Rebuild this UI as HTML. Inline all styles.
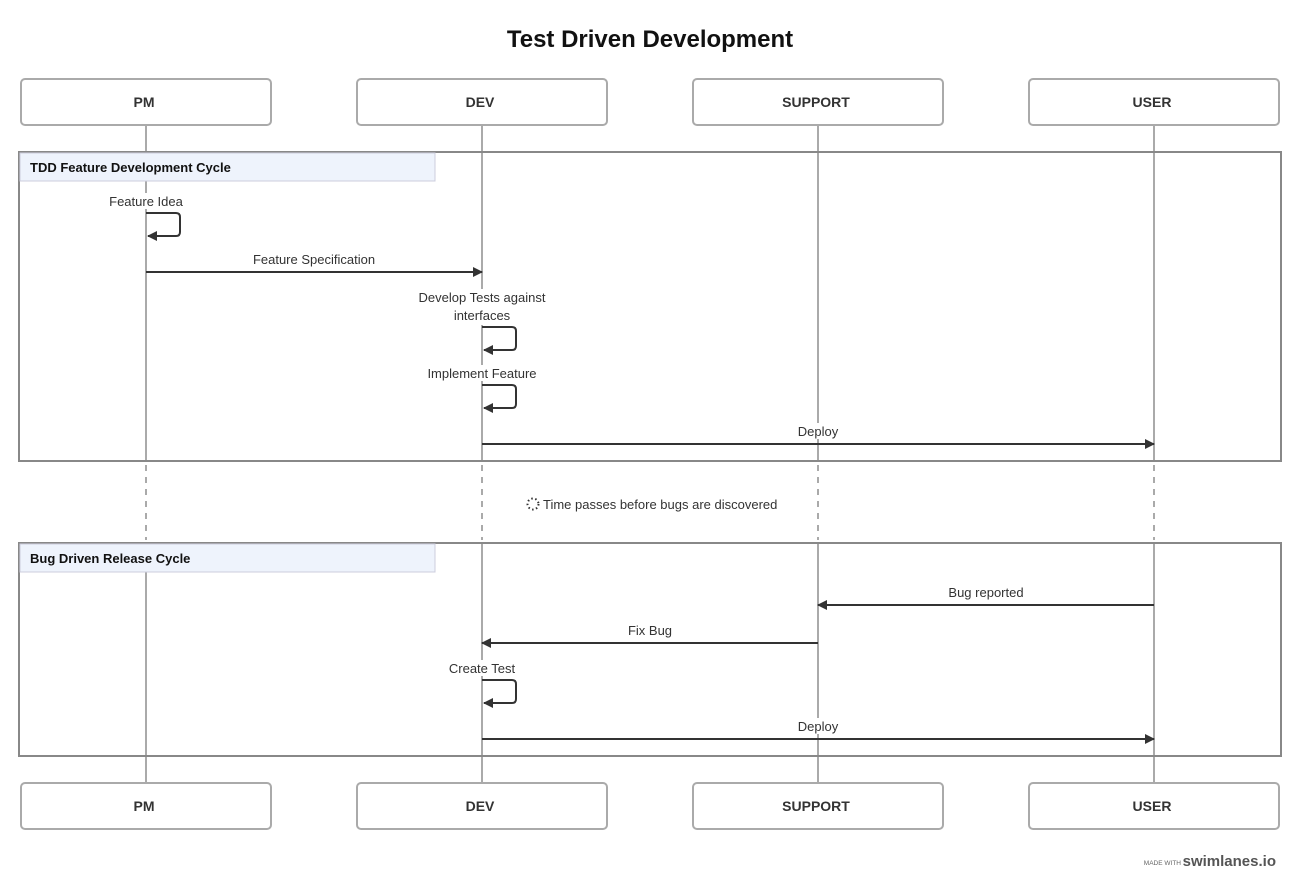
<!DOCTYPE html>
<html><head><meta charset="utf-8"><style>
html,body{margin:0;padding:0;background:#fff;}
svg{display:block;font-family:"Liberation Sans",sans-serif;}
</style></head><body>
<svg width="1300" height="890" viewBox="0 0 1300 890" xmlns="http://www.w3.org/2000/svg">
<defs>
<marker id="ah" markerWidth="10" markerHeight="10" refX="9" refY="5" orient="auto" markerUnits="userSpaceOnUse">
<path d="M0,0 L10,5 L0,10 z" fill="#333"/></marker>
</defs>
<text x="650" y="47" font-size="24" font-weight="bold" text-anchor="middle" fill="#111">Test Driven Development</text>
<g stroke="#aaa" stroke-width="2">
<line x1="146" y1="125" x2="146" y2="461"/><line x1="146" y1="543" x2="146" y2="783"/>
<line x1="482" y1="125" x2="482" y2="461"/><line x1="482" y1="543" x2="482" y2="783"/>
<line x1="818" y1="125" x2="818" y2="461"/><line x1="818" y1="543" x2="818" y2="783"/>
<line x1="1154" y1="125" x2="1154" y2="461"/><line x1="1154" y1="543" x2="1154" y2="783"/>
</g>
<g stroke="#aaa" stroke-width="2" stroke-dasharray="6,6">
<line x1="146" y1="465" x2="146" y2="540"/><line x1="482" y1="465" x2="482" y2="540"/>
<line x1="818" y1="465" x2="818" y2="540"/><line x1="1154" y1="465" x2="1154" y2="540"/>
</g>
<rect x="19" y="152" width="1262" height="309" fill="none" stroke="#888" stroke-width="2"/>
<rect x="20" y="153" width="415" height="28" fill="#eef3fc" stroke="#ccd" stroke-width="1"/>
<text x="30" y="172" font-size="13" font-weight="bold" fill="#111">TDD Feature Development Cycle</text>
<rect x="19" y="543" width="1262" height="213" fill="none" stroke="#888" stroke-width="2"/>
<rect x="20" y="544" width="415" height="28" fill="#eef3fc" stroke="#ccd" stroke-width="1"/>
<text x="30" y="563" font-size="13" font-weight="bold" fill="#111">Bug Driven Release Cycle</text>
<g fill="#fff" stroke="#aaa" stroke-width="2">
<rect x="21" y="79" width="250" height="46" rx="4"/><rect x="357" y="79" width="250" height="46" rx="4"/>
<rect x="693" y="79" width="250" height="46" rx="4"/><rect x="1029" y="79" width="250" height="46" rx="4"/>
<rect x="21" y="783" width="250" height="46" rx="4"/><rect x="357" y="783" width="250" height="46" rx="4"/>
<rect x="693" y="783" width="250" height="46" rx="4"/><rect x="1029" y="783" width="250" height="46" rx="4"/>
</g>
<g font-size="14" font-weight="bold" fill="#333" text-anchor="middle">
<text x="144" y="107">PM</text><text x="480" y="107">DEV</text><text x="816" y="107">SUPPORT</text><text x="1152" y="107">USER</text>
<text x="144" y="811">PM</text><text x="480" y="811">DEV</text><text x="816" y="811">SUPPORT</text><text x="1152" y="811">USER</text>
</g>
<g fill="#fff">
<rect x="108" y="193" width="76" height="16"/>
<rect x="416" y="289" width="132" height="36"/>
<rect x="424" y="365" width="116" height="16"/>
<rect x="795" y="423" width="46" height="16"/>
<rect x="447" y="660" width="70" height="16"/>
<rect x="795" y="718" width="46" height="16"/>
</g>
<g stroke="#333" stroke-width="2" fill="none">
<path d="M146,213 H176 Q180,213 180,217 V232 Q180,236 176,236 H148" marker-end="url(#ah)"/>
<line x1="146" y1="272" x2="482" y2="272" marker-end="url(#ah)"/>
<path d="M482,327 H512 Q516,327 516,331 V346 Q516,350 512,350 H484" marker-end="url(#ah)"/>
<path d="M482,385 H512 Q516,385 516,389 V404 Q516,408 512,408 H484" marker-end="url(#ah)"/>
<line x1="482" y1="444" x2="1154" y2="444" marker-end="url(#ah)"/>
<line x1="1154" y1="605" x2="818" y2="605" marker-end="url(#ah)"/>
<line x1="818" y1="643" x2="482" y2="643" marker-end="url(#ah)"/>
<path d="M482,680 H512 Q516,680 516,684 V699 Q516,703 512,703 H484" marker-end="url(#ah)"/>
<line x1="482" y1="739" x2="1154" y2="739" marker-end="url(#ah)"/>
</g>
<g font-size="13" fill="#333" text-anchor="middle">
<text x="146" y="206">Feature Idea</text>
<text x="314" y="264">Feature Specification</text>
<text x="482" y="302">Develop Tests against</text>
<text x="482" y="320">interfaces</text>
<text x="482" y="378">Implement Feature</text>
<text x="818" y="436">Deploy</text>
<text x="986" y="597">Bug reported</text>
<text x="650" y="635">Fix Bug</text>
<text x="482" y="673">Create Test</text>
<text x="818" y="731">Deploy</text>
</g>
<circle cx="533" cy="504" r="5.5" fill="none" stroke="#333" stroke-width="2" stroke-dasharray="1.5,2.5"/>
<text x="543" y="509" font-size="13" fill="#333">Time passes before bugs are discovered</text>
<text x="1181" y="865" font-size="6.5" fill="#666" text-anchor="end">MADE WITH</text>
<text x="1276" y="866" font-size="15" font-weight="bold" fill="#555" text-anchor="end">swimlanes.io</text>
</svg>
</body></html>
